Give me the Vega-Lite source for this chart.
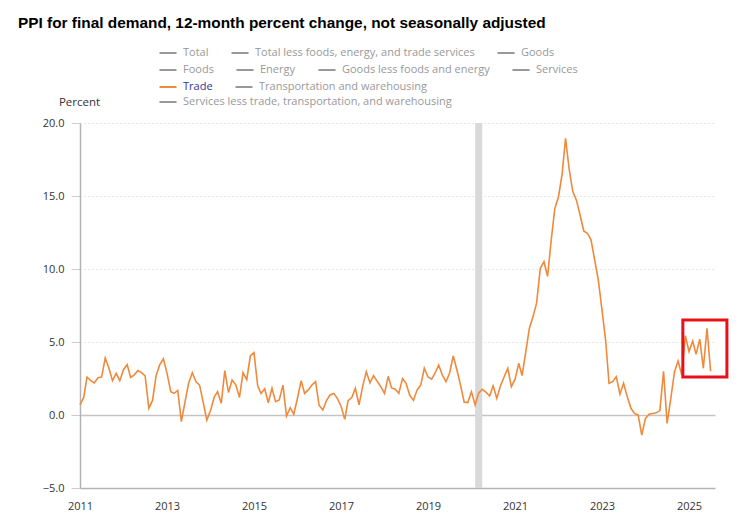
{
  "$schema": "https://vega.github.io/schema/vega-lite/v6.json",
  "autosize": "none",
  "width": 635,
  "height": 365,
  "padding": {"left": 80, "top": 123, "right": 25, "bottom": 42},
  "background": "white",
  "title": {
    "text": "PPI for final demand, 12-month percent change, not seasonally adjusted",
    "anchor": "start",
    "frame": "group",
    "dx": -62,
    "dy": -8,
    "offset": 4,
    "font": "Liberation Sans",
    "fontSize": 15.4,
    "fontWeight": "bold",
    "color": "#000000"
  },
  "datasets": {
    "trade": [
      {"date": "2011-01-01", "value": 0.7}, {"date": "2011-02-01", "value": 1.2}, {"date": "2011-03-01", "value": 2.6}, {"date": "2011-04-01", "value": 2.35}, {"date": "2011-05-01", "value": 2.2}, {"date": "2011-06-01", "value": 2.55}, {"date": "2011-07-01", "value": 2.6}, {"date": "2011-08-01", "value": 3.9}, {"date": "2011-09-01", "value": 3.2}, {"date": "2011-10-01", "value": 2.35}, {"date": "2011-11-01", "value": 2.85}, {"date": "2011-12-01", "value": 2.35},
      {"date": "2012-01-01", "value": 3.1}, {"date": "2012-02-01", "value": 3.45}, {"date": "2012-03-01", "value": 2.57}, {"date": "2012-04-01", "value": 2.75}, {"date": "2012-05-01", "value": 3.05}, {"date": "2012-06-01", "value": 2.9}, {"date": "2012-07-01", "value": 2.68}, {"date": "2012-08-01", "value": 0.45}, {"date": "2012-09-01", "value": 1.0}, {"date": "2012-10-01", "value": 2.7}, {"date": "2012-11-01", "value": 3.45}, {"date": "2012-12-01", "value": 3.85},
      {"date": "2013-01-01", "value": 2.85}, {"date": "2013-02-01", "value": 1.6}, {"date": "2013-03-01", "value": 1.48}, {"date": "2013-04-01", "value": 1.68}, {"date": "2013-05-01", "value": -0.46}, {"date": "2013-06-01", "value": 0.9}, {"date": "2013-07-01", "value": 2.17}, {"date": "2013-08-01", "value": 2.9}, {"date": "2013-09-01", "value": 2.28}, {"date": "2013-10-01", "value": 2.05}, {"date": "2013-11-01", "value": 0.85}, {"date": "2013-12-01", "value": -0.35},
      {"date": "2014-01-01", "value": 0.3}, {"date": "2014-02-01", "value": 1.22}, {"date": "2014-03-01", "value": 1.6}, {"date": "2014-04-01", "value": 0.8}, {"date": "2014-05-01", "value": 3.04}, {"date": "2014-06-01", "value": 1.54}, {"date": "2014-07-01", "value": 2.4}, {"date": "2014-08-01", "value": 2.07}, {"date": "2014-09-01", "value": 1.2}, {"date": "2014-10-01", "value": 2.9}, {"date": "2014-11-01", "value": 2.42}, {"date": "2014-12-01", "value": 4.04},
      {"date": "2015-01-01", "value": 4.27}, {"date": "2015-02-01", "value": 2.0}, {"date": "2015-03-01", "value": 1.48}, {"date": "2015-04-01", "value": 1.8}, {"date": "2015-05-01", "value": 0.84}, {"date": "2015-06-01", "value": 1.83}, {"date": "2015-07-01", "value": 0.91}, {"date": "2015-08-01", "value": 1.03}, {"date": "2015-09-01", "value": 2.05}, {"date": "2015-10-01", "value": -0.07}, {"date": "2015-11-01", "value": 0.5}, {"date": "2015-12-01", "value": 0.05},
      {"date": "2016-01-01", "value": 1.15}, {"date": "2016-02-01", "value": 2.35}, {"date": "2016-03-01", "value": 1.48}, {"date": "2016-04-01", "value": 1.72}, {"date": "2016-05-01", "value": 2.05}, {"date": "2016-06-01", "value": 2.28}, {"date": "2016-07-01", "value": 0.65}, {"date": "2016-08-01", "value": 0.34}, {"date": "2016-09-01", "value": 1.0}, {"date": "2016-10-01", "value": 1.37}, {"date": "2016-11-01", "value": 1.48}, {"date": "2016-12-01", "value": 1.14},
      {"date": "2017-01-01", "value": 0.6}, {"date": "2017-02-01", "value": -0.3}, {"date": "2017-03-01", "value": 0.98}, {"date": "2017-04-01", "value": 1.2}, {"date": "2017-05-01", "value": 1.83}, {"date": "2017-06-01", "value": 0.7}, {"date": "2017-07-01", "value": 1.94}, {"date": "2017-08-01", "value": 2.97}, {"date": "2017-09-01", "value": 2.2}, {"date": "2017-10-01", "value": 2.7}, {"date": "2017-11-01", "value": 2.3}, {"date": "2017-12-01", "value": 1.94},
      {"date": "2018-01-01", "value": 1.48}, {"date": "2018-02-01", "value": 2.65}, {"date": "2018-03-01", "value": 1.85}, {"date": "2018-04-01", "value": 1.76}, {"date": "2018-05-01", "value": 1.48}, {"date": "2018-06-01", "value": 2.5}, {"date": "2018-07-01", "value": 2.17}, {"date": "2018-08-01", "value": 1.35}, {"date": "2018-09-01", "value": 1.0}, {"date": "2018-10-01", "value": 1.71}, {"date": "2018-11-01", "value": 2.05}, {"date": "2018-12-01", "value": 3.2},
      {"date": "2019-01-01", "value": 2.6}, {"date": "2019-02-01", "value": 2.45}, {"date": "2019-03-01", "value": 2.86}, {"date": "2019-04-01", "value": 3.42}, {"date": "2019-05-01", "value": 2.74}, {"date": "2019-06-01", "value": 2.28}, {"date": "2019-07-01", "value": 2.86}, {"date": "2019-08-01", "value": 4.04}, {"date": "2019-09-01", "value": 3.08}, {"date": "2019-10-01", "value": 2.05}, {"date": "2019-11-01", "value": 0.88}, {"date": "2019-12-01", "value": 0.85},
      {"date": "2020-01-01", "value": 1.6}, {"date": "2020-02-01", "value": 0.68}, {"date": "2020-03-01", "value": 1.5}, {"date": "2020-04-01", "value": 1.76}, {"date": "2020-05-01", "value": 1.57}, {"date": "2020-06-01", "value": 1.3}, {"date": "2020-07-01", "value": 2.0}, {"date": "2020-08-01", "value": 1.14}, {"date": "2020-09-01", "value": 2.0}, {"date": "2020-10-01", "value": 2.6}, {"date": "2020-11-01", "value": 3.2}, {"date": "2020-12-01", "value": 1.94},
      {"date": "2021-01-01", "value": 2.45}, {"date": "2021-02-01", "value": 3.54}, {"date": "2021-03-01", "value": 2.7}, {"date": "2021-04-01", "value": 4.3}, {"date": "2021-05-01", "value": 5.93}, {"date": "2021-06-01", "value": 6.74}, {"date": "2021-07-01", "value": 7.66}, {"date": "2021-08-01", "value": 10.05}, {"date": "2021-09-01", "value": 10.5}, {"date": "2021-10-01", "value": 9.5}, {"date": "2021-11-01", "value": 12.0}, {"date": "2021-12-01", "value": 14.15},
      {"date": "2022-01-01", "value": 14.95}, {"date": "2022-02-01", "value": 16.55}, {"date": "2022-03-01", "value": 18.95}, {"date": "2022-04-01", "value": 16.8}, {"date": "2022-05-01", "value": 15.3}, {"date": "2022-06-01", "value": 14.7}, {"date": "2022-07-01", "value": 13.7}, {"date": "2022-08-01", "value": 12.6}, {"date": "2022-09-01", "value": 12.45}, {"date": "2022-10-01", "value": 12.0}, {"date": "2022-11-01", "value": 10.6}, {"date": "2022-12-01", "value": 9.25},
      {"date": "2023-01-01", "value": 7.2}, {"date": "2023-02-01", "value": 5.1}, {"date": "2023-03-01", "value": 2.17}, {"date": "2023-04-01", "value": 2.28}, {"date": "2023-05-01", "value": 2.63}, {"date": "2023-06-01", "value": 1.42}, {"date": "2023-07-01", "value": 2.17}, {"date": "2023-08-01", "value": 1.26}, {"date": "2023-09-01", "value": 0.46}, {"date": "2023-10-01", "value": 0.11}, {"date": "2023-11-01", "value": 0.0}, {"date": "2023-12-01", "value": -1.37},
      {"date": "2024-01-01", "value": -0.23}, {"date": "2024-02-01", "value": 0.05}, {"date": "2024-03-01", "value": 0.1}, {"date": "2024-04-01", "value": 0.15}, {"date": "2024-05-01", "value": 0.3}, {"date": "2024-06-01", "value": 3.0}, {"date": "2024-07-01", "value": -0.57}, {"date": "2024-08-01", "value": 1.14}, {"date": "2024-09-01", "value": 2.97}, {"date": "2024-10-01", "value": 3.7}, {"date": "2024-11-01", "value": 2.74}, {"date": "2024-12-01", "value": 5.43},
      {"date": "2025-01-01", "value": 4.34}, {"date": "2025-02-01", "value": 5.07}, {"date": "2025-03-01", "value": 4.15}, {"date": "2025-04-01", "value": 5.2}, {"date": "2025-05-01", "value": 3.2}, {"date": "2025-06-01", "value": 5.94}, {"date": "2025-07-01", "value": 3.0}
    ],
    "legend": [
      {"series": "Total", "row": 1},
      {"series": "Total less foods, energy, and trade services", "row": 1},
      {"series": "Goods", "row": 1},
      {"series": "Foods", "row": 2},
      {"series": "Energy", "row": 2},
      {"series": "Goods less foods and energy", "row": 2},
      {"series": "Services", "row": 2},
      {"series": "Trade", "row": 3},
      {"series": "Transportation and warehousing", "row": 3},
      {"series": "Services less trade, transportation, and warehousing", "row": 4}
    ],
    "recession": [{"start": "2020-02-01", "end": "2020-04-01"}],
    "highlight": [{"start": "2024-11-10", "end": "2025-11-15", "low": 2.6, "high": 6.5}]
  },
  "layer": [
    {
      "data": {"name": "recession"},
      "mark": {"type": "rect", "color": "#d9d9d9"},
      "encoding": {
        "x": {"field": "start", "type": "temporal"},
        "x2": {"field": "end"}
      }
    },
    {
      "data": {"name": "trade"},
      "mark": {"type": "line", "color": "#ef8a3c", "strokeWidth": 1.6},
      "encoding": {
        "x": {
          "field": "date",
          "type": "temporal",
          "scale": {"type": "utc", "domain": [{"year": 2011, "month": 1, "date": 1, "utc": true}, {"year": 2025, "month": 8, "date": 7, "utc": true}]},
          "axis": {
            "title": null,
            "format": "%Y",
            "values": [
              {"year": 2011, "month": 1, "date": 1, "utc": true},
              {"year": 2013, "month": 1, "date": 1, "utc": true},
              {"year": 2015, "month": 1, "date": 1, "utc": true},
              {"year": 2017, "month": 1, "date": 1, "utc": true},
              {"year": 2019, "month": 1, "date": 1, "utc": true},
              {"year": 2021, "month": 1, "date": 1, "utc": true},
              {"year": 2023, "month": 1, "date": 1, "utc": true},
              {"year": 2025, "month": 1, "date": 1, "utc": true}
            ],
            "grid": false,
            "ticks": false,
            "labelPadding": 12,
            "labelFont": "Open Sans",
            "labelFontSize": 11,
            "labelColor": "#333333",
            "domainColor": "#b3b3b3",
            "domainWidth": 1.5,
            "labelFlush": false
          }
        },
        "y": {
          "field": "value",
          "type": "quantitative",
          "scale": {"domain": [-5, 20], "nice": false, "zero": false},
          "axis": {
            "title": "Percent",
            "titleAngle": 0,
            "titleAlign": "center",
            "titleBaseline": "middle",
            "titleX": -1,
            "titleY": -21,
            "titleFont": "Open Sans",
            "titleFontSize": 11.5,
            "titleFontWeight": "normal",
            "titleColor": "#333333",
            "values": [-5, 0, 5, 10, 15, 20],
            "format": ".1f",
            "labelFont": "Open Sans",
            "labelFontSize": 11,
            "labelColor": "#333333",
            "labelPadding": 7,
            "tickSize": 9,
            "tickColor": "#cccccc",
            "domainColor": "#b3b3b3",
            "domainWidth": 1.5,
            "grid": true,
            "gridColor": {"condition": {"test": "datum.value === 0", "value": "#c4c4c4"}, "value": "#cfcfcf"},
            "gridDash": {"condition": {"test": "datum.value === 0", "value": []}, "value": [1, 3]},
            "gridWidth": {"condition": {"test": "datum.value === 0", "value": 1.5}, "value": 1}
          }
        }
      }
    },
    {
      "data": {"name": "highlight"},
      "mark": {"type": "rect", "filled": false, "stroke": "#e8111b", "strokeWidth": 3},
      "encoding": {
        "x": {"field": "start", "type": "temporal"},
        "x2": {"field": "end"},
        "y": {"field": "low", "type": "quantitative"},
        "y2": {"field": "high"}
      }
    },
    {
      "data": {"name": "legend"},
      "transform": [{"filter": "datum.row === 1"}],
      "mark": {"type": "line", "strokeWidth": 2},
      "encoding": {
        "color": {
          "field": "series",
          "type": "nominal",
          "sort": null,
          "scale": {"domain": ["Total", "Total less foods, energy, and trade services", "Goods"], "range": ["#999999", "#999999", "#999999"]},
          "legend": {"orient": "none", "legendX": 78, "legendY": -80, "title": null, "direction": "horizontal", "columns": 3}
        }
      }
    },
    {
      "data": {"name": "legend"},
      "transform": [{"filter": "datum.row === 2"}],
      "mark": {"type": "line", "strokeWidth": 2},
      "encoding": {
        "color": {
          "field": "series",
          "type": "nominal",
          "sort": null,
          "scale": {"domain": ["Foods", "Energy", "Goods less foods and energy", "Services"], "range": ["#999999", "#999999", "#999999", "#999999"]},
          "legend": {"orient": "none", "legendX": 78, "legendY": -63, "title": null, "direction": "horizontal", "columns": 4}
        }
      }
    },
    {
      "data": {"name": "legend"},
      "transform": [{"filter": "datum.row === 3"}],
      "mark": {"type": "line", "strokeWidth": 2},
      "encoding": {
        "color": {
          "field": "series",
          "type": "nominal",
          "sort": null,
          "scale": {"domain": ["Trade", "Transportation and warehousing"], "range": ["#ef8a3c", "#999999"]},
          "legend": {
            "orient": "none", "legendX": 78, "legendY": -46, "title": null, "direction": "horizontal", "columns": 2,
            "encode": {"labels": {"update": {"fill": {"signal": "datum.value === 'Trade' ? '#333399' : '#999999'"}}}}
          }
        }
      }
    },
    {
      "data": {"name": "legend"},
      "transform": [{"filter": "datum.row === 4"}],
      "mark": {"type": "line", "strokeWidth": 2},
      "encoding": {
        "color": {
          "field": "series",
          "type": "nominal",
          "sort": null,
          "scale": {"domain": ["Services less trade, transportation, and warehousing"], "range": ["#999999"]},
          "legend": {"orient": "none", "legendX": 78, "legendY": -31, "title": null, "direction": "horizontal", "columns": 1}
        }
      }
    }
  ],
  "resolve": {"scale": {"color": "independent"}, "legend": {"color": "independent"}},
  "config": {
    "view": {"stroke": null},
    "legend": {
      "symbolType": "stroke",
      "symbolSize": 290,
      "symbolStrokeWidth": 2,
      "labelFont": "Open Sans",
      "labelFontSize": 11,
      "labelColor": "#999999",
      "labelOffset": 5,
      "labelLimit": 500,
      "columnPadding": 18,
      "padding": 0,
      "gridAlign": "none"
    }
  }
}
